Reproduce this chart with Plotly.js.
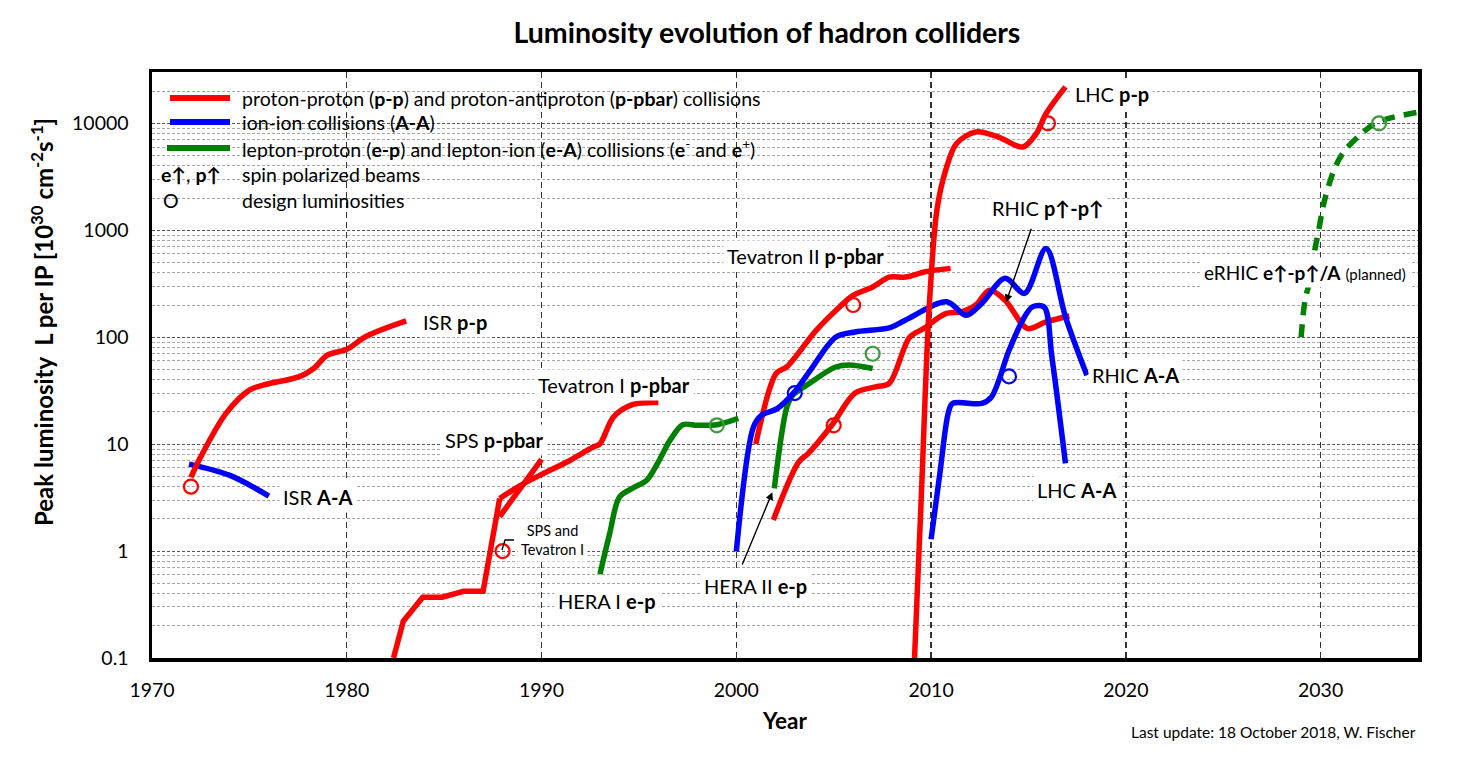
<!DOCTYPE html>
<html><head><meta charset="utf-8">
<script src="https://cdn.plot.ly/plotly-3.0.1.min.js"></script>
<style>html,body{margin:0;padding:0;background:#fff}</style>
</head><body>
<div id="chart" style="width:1466px;height:758px"></div>
<script>
// ---------------- data (year, peak luminosity in 1e30 cm^-2 s^-1) ----------------
const isrPP_x = [1972.0, 1972.5, 1973.8, 1975.0, 1975.7, 1977.6, 1978.3, 1979.0, 1980.0, 1981.0, 1983.05];
const isrPP_y = [4.9, 7.6, 19.4, 32, 35.6, 43, 51, 68, 77, 102, 142];

const isrAA_x = [1971.9, 1974.0, 1976.0];
const isrAA_y = [6.5, 5.1, 3.27];

const spsSteps_x = [1982.4, 1982.9, 1983.9, 1984.9, 1986.0, 1987.0, 1987.85];
const spsSteps_y = [0.1, 0.22, 0.37, 0.37, 0.42, 0.42, 3.1];

const spsEnd_x = [1987.85, 1990.0];
const spsEnd_y = [2.1, 7.2];

const tev1_x = [1987.85, 1988.9, 1989.9, 1991.3, 1992.6, 1993.0, 1993.7, 1994.7, 1996.0];
const tev1_y = [3.1, 4.1, 5.1, 6.8, 9.3, 10.1, 18, 23.5, 24.5];

const heraI_x = [1993.0, 1993.5, 1994.0, 1994.7, 1995.4, 1996.05, 1996.6, 1997.25, 1998.0, 1999.0, 2000.1];
const heraI_y = [0.61, 1.46, 3.2, 3.9, 4.6, 7.1, 10.9, 15.2, 15, 15.2, 17.4];

const tev2_x = [2001.0, 2002.05, 2002.6, 2004.1, 2005.3, 2006.0, 2007.0, 2007.85, 2008.7, 2009.7, 2011.0];
const tev2_y = [10, 46, 53, 116, 192, 246, 295, 365, 365, 409, 440];

const rhicPP_x = [2001.9, 2003.2, 2003.7, 2004.9, 2006.1, 2007.2, 2007.85, 2008.9, 2009.6, 2010.75, 2011.6, 2012.3, 2013.0, 2013.8, 2014.7, 2015.0, 2015.9, 2017.1];
const rhicPP_y = [1.95, 6.8, 8.2, 15, 30, 34.5, 37, 100, 120, 166, 173, 200, 275, 222, 130, 120, 139, 158];

const rhicAA_x = [2000.0, 2000.88, 2001.3, 2002.1, 2003.0, 2003.8, 2005.1, 2006.1, 2007.9, 2008.7, 2010.8, 2011.8, 2012.6, 2013.8, 2014.8, 2015.9, 2016.9, 2018.0];
const rhicAA_y = [0.99, 14.5, 18.7, 21.5, 31, 49, 100, 112, 123, 145, 214, 160, 207, 355, 257, 676, 155, 44];

const lhcAA_x = [2010.0, 2010.45, 2010.88, 2011.1, 2012.6, 2013.1, 2014.0, 2014.7, 2015.2, 2015.8, 2016.2, 2016.9];
const lhcAA_y = [1.29, 5.3, 19.4, 24, 24, 27.6, 75, 144, 192, 192, 66, 6.6];

const lhcPP_x = [2009.15, 2009.5, 2009.9, 2010.3, 2010.75, 2011.3, 2012.3, 2013.5, 2014.7, 2015.4, 2015.9, 2016.9];
const lhcPP_y = [0.1, 3.3, 186, 1550, 3650, 6450, 8300, 7400, 6000, 8000, 12300, 21900];

const heraII_x = [2001.95, 2002.6, 2002.9, 2003.75, 2005.1, 2005.8, 2007.0];
const heraII_y = [3.86, 22.3, 28.7, 37, 52.6, 55, 51];

const erhic_x = [2029.0, 2029.2, 2029.5, 2029.7, 2029.9, 2030.2, 2030.75, 2031.25, 2032.1, 2032.9, 2035.0];
const erhic_y = [100, 222, 365, 650, 1000, 1900, 3900, 5600, 8000, 10240, 12700];

// design luminosities (open circles)
const designRed_x = [1972, 1988, 2005, 2006, 2016];
const designRed_y = [4, 1, 15, 200, 10000];
const designBlue_x = [2003, 2014];
const designBlue_y = [30, 43];
const designGreen_x = [1999, 2007, 2033];
const designGreen_y = [15, 70, 10000];

// tick labels
const xTicks = [1970, 1980, 1990, 2000, 2010, 2020, 2030];
const yTicks = [0.1, 1, 10, 100, 1000, 10000];
const yTickText = ['0.1', '1', '10', '100', '1000', '10000'];

// ---------------- styling ----------------
const RED = '#ff0000', BLUE = '#0000ff', GREEN = '#008000', GREEN_C = '#3d9b3d';
const FONT = 'Lato, "Open Sans", sans-serif';
const LW = 5.5;

function curve(x, y, color, shape, dash) {
  return {x: x, y: y, type: 'scatter', mode: 'lines', hoverinfo: 'skip', showlegend: false,
          line: {color: color, width: LW, shape: shape || 'spline', smoothing: 0.9, dash: dash || 'solid'}};
}
function circles(x, y, color) {
  return {x: x, y: y, type: 'scatter', mode: 'markers', hoverinfo: 'skip', showlegend: false,
          marker: {symbol: 'circle-open', size: 14, color: color, line: {width: 2.2, color: color}}};
}

const traces = [
  curve(isrAA_x, isrAA_y, BLUE),
  curve(isrPP_x, isrPP_y, RED),
  curve(spsSteps_x, spsSteps_y, RED, 'linear'),
  curve(spsEnd_x, spsEnd_y, RED, 'linear'),
  curve(tev1_x, tev1_y, RED),
  curve(heraI_x, heraI_y, GREEN),
  curve(heraII_x, heraII_y, GREEN),
  curve(tev2_x, tev2_y, RED),
  curve(rhicPP_x, rhicPP_y, RED),
  curve(rhicAA_x, rhicAA_y, BLUE),
  curve(lhcAA_x, lhcAA_y, BLUE),
  curve(lhcPP_x, lhcPP_y, RED),
  curve(erhic_x, erhic_y, GREEN, 'spline', '13px,9px'),
  circles(designRed_x, designRed_y, RED),
  circles(designBlue_x, designBlue_y, BLUE),
  circles(designGreen_x, designGreen_y, GREEN_C)
];

// plot area in pixels
const L = 152, R = 1418, T = 72, B = 658;
const px = v => (v - L) / (R - L);
const py = v => (B - v) / (B - T);
const lg = Math.log10;
const LBL = 20, LEG = 19.5;

function label(year, val, text, size, extra) {
  return Object.assign({x: year, y: lg(val), xref: 'x', yref: 'y', text: text, showarrow: false,
    font: {family: FONT, size: size || LBL, color: '#000'}, bgcolor: '#ffffff', borderpad: 3,
    xanchor: 'center', yanchor: 'middle'}, extra || {});
}
function arrow(x0, y0, x1, y1) {
  return {x: x1, y: lg(y1), ax: x0, ay: lg(y0), xref: 'x', yref: 'y', axref: 'x', ayref: 'y',
    text: ' ', showarrow: true, arrowhead: 2, arrowsize: 1.1, arrowwidth: 1.4, arrowcolor: '#000'};
}
function legText(x, y, text) {
  return {xref: 'paper', yref: 'paper', x: px(x), y: py(y), xanchor: 'left', yanchor: 'middle', showarrow: false,
    text: text, font: {family: FONT, size: LEG, color: '#000'}};
}

const annotations = [
  label(1985.55, 138, 'ISR <b>p-p</b>'),
  label(1978.5, 3.2, 'ISR <b>A-A</b>'),
  label(1987.6, 10.9, 'SPS <b>p-pbar</b>'),
  label(1993.7, 35.5, 'Tevatron I <b>p-pbar</b>'),
  label(1990.55, 1.27, 'SPS and<br>Tevatron I', 14.5),
  label(1993.35, 0.344, 'HERA I <b>e-p</b>'),
  label(2003.55, 580, 'Tevatron II <b>p-pbar</b>'),
  label(2001.0, 0.47, 'HERA II <b>e-p</b>'),
  label(2017.45, 3.7, 'LHC <b>A-A</b>'),
  label(2020.5, 44, 'RHIC <b>A-A</b>'),
  label(2019.3, 18900, 'LHC <b>p-p</b>'),
  label(2016.0, 1600, 'RHIC <b>p↑-p↑</b>'),
  label(2029.2, 403, 'eRHIC <b>e↑-p↑/A</b> <span style="font-size:15px">(planned)</span>', 19),
  arrow(2000.15, 0.64, 2001.85, 3.55),
  arrow(2015.3, 1250, 2013.85, 212),
  // legend texts
  legText(240, 98, 'proton-proton (<b>p-p</b>) and proton-antiproton (<b>p-pbar</b>) collisions'),
  legText(240, 123, 'ion-ion collisions (<b>A-A</b>)'),
  legText(240, 148, 'lepton-proton (<b>e-p</b>) and lepton-ion (<b>e-A</b>) collisions (<b>e</b><sup>-</sup> and <b>e</b><sup>+</sup>)'),
  legText(159, 174, '<b>e↑</b>, <b>p↑</b>'),
  legText(240, 174, 'spin polarized beams'),
  legText(161, 200, 'O'),
  legText(240, 200, 'design luminosities'),
  // y axis title (positioned as in the reference, slightly above plot centre)
  {xref: 'paper', yref: 'paper', x: px(42), y: py(322), xanchor: 'center', yanchor: 'middle', showarrow: false,
   textangle: -90, text: '<b>Peak luminosity  L per IP [10<sup>30</sup> cm<sup>-2</sup>s<sup>-1</sup>]</b>',
   font: {family: FONT, size: 24, color: '#000'}},
  // footnote
  {xref: 'paper', yref: 'paper', x: 1, y: py(732), xanchor: 'right', yanchor: 'middle', showarrow: false,
   text: 'Last update: 18 October 2018, W. Fischer', font: {family: FONT, size: 15.5, color: '#000'}}
];

const shapes = [
  {type: 'rect', xref: 'paper', yref: 'paper', x0: px(158), x1: px(775), y0: py(207), y1: py(75),
   fillcolor: '#ffffff', line: {width: 0}, layer: 'between'},
  {type: 'line', xref: 'paper', yref: 'paper', x0: px(170), x1: px(230), y0: py(98), y1: py(98),
   line: {color: RED, width: 6}, layer: 'above'},
  {type: 'line', xref: 'paper', yref: 'paper', x0: px(170), x1: px(230), y0: py(122), y1: py(122),
   line: {color: BLUE, width: 6}, layer: 'above'},
  {type: 'line', xref: 'paper', yref: 'paper', x0: px(167), x1: px(230), y0: py(148), y1: py(148),
   line: {color: GREEN, width: 6}, layer: 'above'},
  // small leader for "SPS and Tevatron I"
  {type: 'path', xref: 'paper', yref: 'paper',
   path: 'M ' + px(502) + ' ' + py(550) + ' L ' + px(505) + ' ' + py(540) + ' L ' + px(514) + ' ' + py(540),
   line: {color: '#000', width: 1.3}, layer: 'above'}
];

// minor log ticks 2..9 per decade
const minorVals = [];
for (let e = -1; e <= 4; e++) for (let m = 2; m <= 9; m++) minorVals.push(m * Math.pow(10, e));

const layout = {
  width: 1466, height: 758,
  margin: {l: L, r: 1466 - R, t: T, b: 758 - B, pad: 0},
  paper_bgcolor: '#ffffff', plot_bgcolor: '#ffffff',
  font: {family: FONT, color: '#000'},
  title: {text: '<b>Luminosity evolution of hadron colliders</b>', font: {family: FONT, size: 28.5, color: '#000'},
          x: px(767), xref: 'paper', xanchor: 'center', y: 1 - 33 / 758, yref: 'container', yanchor: 'middle'},
  xaxis: {
    type: 'linear', range: [1970, 2035], tickvals: xTicks, ticks: '', ticklabelstandoff: 12,
    tickfont: {family: FONT, size: 19.5}, showgrid: true, gridcolor: '#333', gridwidth: 1.4, griddash: '6px,4px',
    showline: true, linecolor: '#000', linewidth: 3.5, mirror: true, zeroline: false,
    title: {text: '<b>Year</b>', font: {family: FONT, size: 22.5}, standoff: 14}
  },
  yaxis: {
    type: 'log', range: [-1, 4.48], tickvals: yTicks, ticktext: yTickText, ticks: '',
    tickfont: {family: FONT, size: 19.5}, showgrid: true, gridcolor: '#555', gridwidth: 1, griddash: '3px,2px',
    minor: {tickvals: minorVals, showgrid: true, gridcolor: '#a8a8a8', gridwidth: 1, griddash: '3px,2px', ticks: ''},
    showline: true, linecolor: '#000', linewidth: 3.5, mirror: true, zeroline: false, ticklabelstandoff: 16
  },
  showlegend: false,
  annotations: annotations,
  shapes: shapes
};

Plotly.newPlot('chart', traces, layout, {displayModeBar: false, staticPlot: true});
</script>
</body></html>
